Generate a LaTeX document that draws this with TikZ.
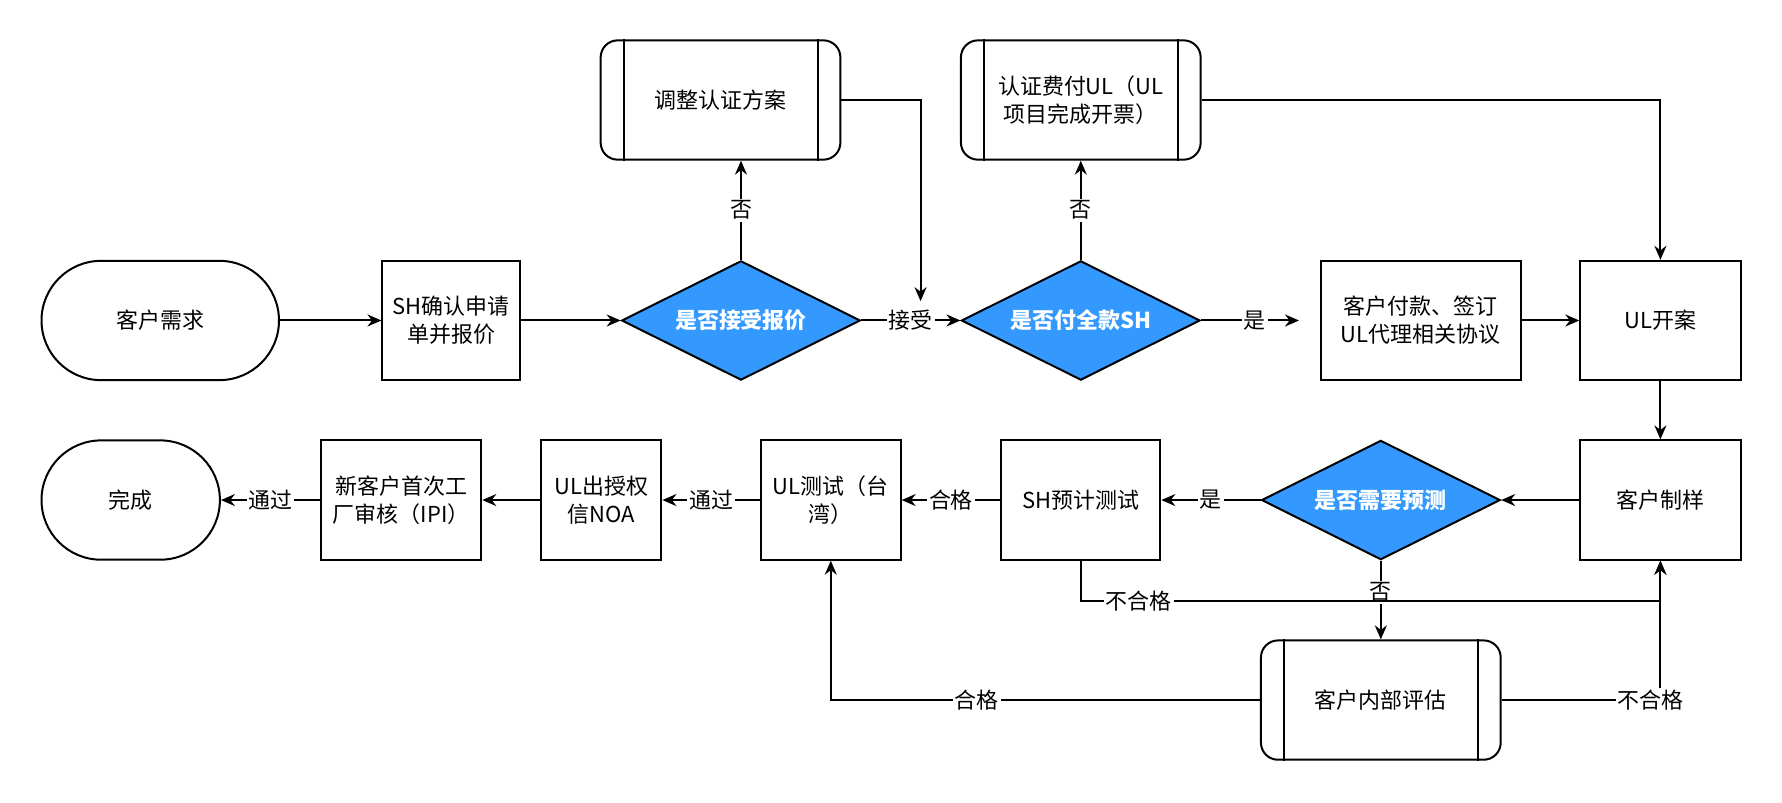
\documentclass[tikz,border=0pt]{standalone}
\usepackage{fontspec}
\setmainfont{Noto Sans CJK SC}
\usetikzlibrary{shapes.geometric,arrows.meta}
\definecolor{decblue}{HTML}{3399FF}
\tikzset{
  box/.style={draw,line width=1pt,minimum height=2.1cm,align=center,inner sep=2pt,font=\fontsize{11}{14}\selectfont},
  term/.style={box,rounded corners=1.05cm},
  proc/.style={box,rounded corners=0.3cm},
  dec/.style={draw,line width=1pt,diamond,aspect=2,fill=decblue,text=white,font=\fontsize{11}{14}\selectfont\bfseries,minimum width=4.2cm,minimum height=2.1cm,inner sep=0pt},
  flow/.style={line width=1pt,-{Stealth[length=7pt,width=6pt]}},
  lbl/.style={fill=white,inner sep=1pt,font=\fontsize{11}{14}\selectfont}
}
\newcommand{\bars}[1]{%
  \draw[line width=1pt] ([xshift=0.42cm]#1.north west) -- ([xshift=0.42cm]#1.south west);
  \draw[line width=1pt] ([xshift=-0.42cm]#1.north east) -- ([xshift=-0.42cm]#1.south east);}
\begin{document}
\begin{tikzpicture}[x=0.02cm,y=-0.02cm]
  \useasboundingbox (0,0) rectangle (1568,706);
  % top row
  \node[term,minimum width=4.18cm] (need) at (141,282) {客户需求};
  \node[box,minimum width=2.42cm] (confirm) at (397,282) {SH确认申请\\单并报价};
  \node[dec] (accept) at (652,282) {是否接受报价};
  \node[proc,minimum width=4.22cm] (adjust) at (634,88) {调整认证方案};
  \bars{adjust}
  \node[dec] (pay) at (951,282) {是否付全款SH};
  \node[proc,minimum width=4.22cm] (fee) at (951,88) {认证费付UL（UL\\项目完成开票）};
  \bars{fee}
  \node[box,minimum width=3.52cm] (sign) at (1250,282) {客户付款、签订\\UL代理相关协议};
  \node[box,minimum width=2.82cm] (open) at (1461,282) {UL开案};
  % bottom row
  \node[box,minimum width=2.82cm] (sample) at (1461,440) {客户制样};
  \node[dec] (predict) at (1215,440) {是否需要预测};
  \node[box,minimum width=2.8cm] (shtest) at (951,440) {SH预计测试};
  \node[box,minimum width=2.46cm] (ultest) at (731,440) {UL测试（台\\湾）};
  \node[box,minimum width=2.12cm] (noa) at (529,440) {UL出授权\\信NOA};
  \node[box,minimum width=2.82cm] (ipi) at (353,440) {新客户首次工\\厂审核（IPI）};
  \node[term,minimum width=3.14cm] (done) at (115,440) {完成};
  \node[proc,minimum width=4.22cm] (eval) at (1215,616) {客户内部评估};
  \bars{eval}
  \coordinate (a1) at (810,265);
  \coordinate (s1) at (1143,282);

  \draw[flow] (need) -- (confirm);
  \draw[flow] (confirm) -- (accept);
  \draw[flow] (accept) -- node[lbl]{接受} (pay);
  \draw[flow] (accept.north) -- node[lbl]{否} (accept.north |- adjust.south);
  \draw[flow] (adjust.east) -| (a1);
  \draw[flow] (pay) -- node[lbl]{否} (fee);
  \draw[flow] (pay) -- node[lbl,pos=0.55]{是} (s1);
  \draw[flow] (fee.east) -| (open.north);
  \draw[flow] (sign) -- (open);
  \draw[flow] (open) -- (sample);
  \draw[flow] (sample) -- (predict);
  \draw[flow] (predict) -- node[lbl]{是} (shtest);
  \draw[flow] (shtest) -- node[lbl]{合格} (ultest);
  \draw[flow] (ultest) -- node[lbl]{通过} (noa);
  \draw[flow] (noa) -- (ipi);
  \draw[flow] (ipi) -- node[lbl]{通过} (done);
  \draw[flow] (predict) -- node[lbl,pos=0.4]{否} (eval);
  \draw[flow] (shtest.south) |- node[lbl,pos=0.55]{不合格} (1461,529) -- (sample.south);
  \draw[flow] (eval.east) -| node[lbl,pos=0.47]{不合格} (sample.south);
  \draw[flow] (eval.west) -| node[lbl,pos=0.33]{合格} (ultest.south);
\end{tikzpicture}
\end{document}
